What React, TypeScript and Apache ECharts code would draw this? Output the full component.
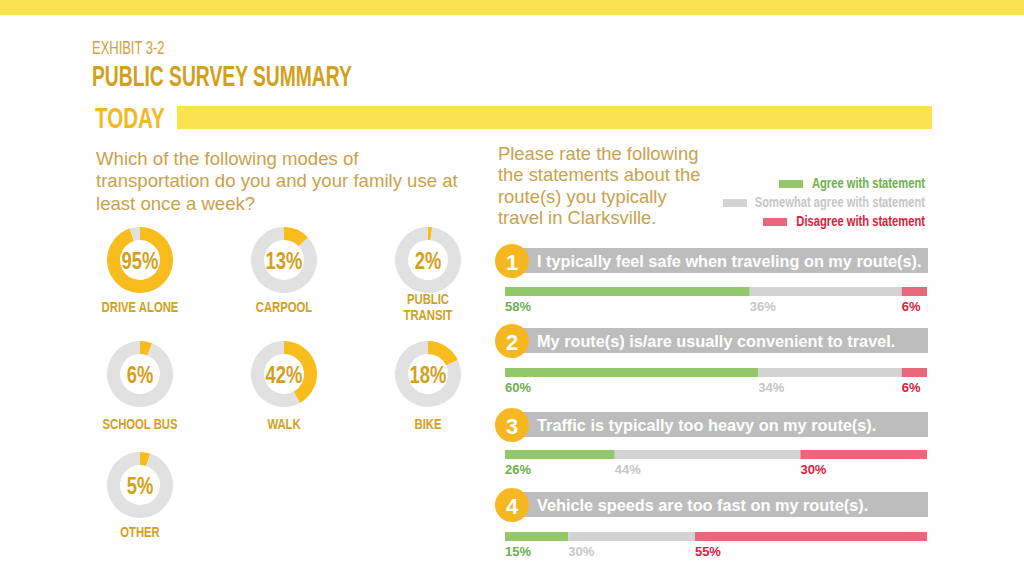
import React, { useEffect, useRef } from 'react';
import * as echarts from 'echarts';

// ---------- data ----------
const modeLabels = ['DRIVE ALONE', 'CARPOOL', 'PUBLIC\nTRANSIT', 'SCHOOL BUS', 'WALK', 'BIKE', 'OTHER'];
const modeShares = [95, 13, 2, 6, 42, 18, 5];

const statements = [
  'I typically feel safe when traveling on my route(s).',
  'My route(s) is/are usually convenient to travel.',
  'Traffic is typically too heavy on my route(s).',
  'Vehicle speeds are too fast on my route(s).',
];
const agreeShares = [58, 60, 26, 15];
const somewhatShares = [36, 34, 44, 30];
const disagreeShares = [6, 6, 30, 55];
const legendLabels = ['Agree with statement', 'Somewhat agree with statement', 'Disagree with statement'];

// ---------- layout / style ----------
const BOLDF = "'Liberation Sans', Arial, Helvetica, sans-serif";
const SANS = "'Liberation Sans', Arial, Helvetica, sans-serif";
const YELLOW_BAND = '#FEE350';
const GOLD_TITLE = '#D3A01C';
const GOLD_LIGHT = '#CFA23A';
const GOLD_TEXT = '#C9A24C';
const GOLD_TODAY = '#F3B91E';
const RING_YELLOW = '#F8BC1C';
const RING_GREY = '#E1E1E1';
const GREEN_BAR = '#93C86A';
const GREY_BAR = '#D3D3D3';
const RED_BAR = '#E8677B';
const GREEN_TXT = '#6DB04C';
const GREY_TXT = '#C6C6C6';
const RED_TXT = '#D7223C';
const BANNER = '#BDBDBD';
const CIRCLE = '#F5B820';

const donutCols = [140, 284, 428];
const donutRows = [260, 374, 485];
const donutLabelRows = [307, 424, 532];

const bannerTops = [248, 328, 412, 492];
const barTops = [287, 368, 450, 532];
const barLeft = 505;
const barWidthPx = 422;

export default function App() {
  const ref = useRef<HTMLDivElement>(null);

  useEffect(() => {
    const chart = echarts.init(ref.current!, null, { renderer: 'svg' });

    const graphic: any[] = [];
    // top band
    graphic.push({ type: 'rect', shape: { x: 0, y: 0, width: 1024, height: 15 }, style: { fill: YELLOW_BAND } });
    // titles (condensed by horizontal scaling)
    graphic.push({ type: 'text', x: 92, y: 48, scaleX: 0.72, style: { text: 'EXHIBIT 3-2', fill: GOLD_LIGHT, fontFamily: BOLDF, fontSize: 18, fontWeight: 'normal', verticalAlign: 'middle' } });
    graphic.push({ type: 'text', x: 92, y: 76, scaleX: 0.665, style: { text: 'PUBLIC SURVEY SUMMARY', fill: GOLD_TITLE, fontFamily: BOLDF, fontSize: 29, fontWeight: 'bold', verticalAlign: 'middle' } });
    graphic.push({ type: 'text', x: 95, y: 118, scaleX: 0.686, style: { text: 'TODAY', fill: GOLD_TODAY, fontFamily: BOLDF, fontSize: 30, fontWeight: 'bold', verticalAlign: 'middle' } });
    graphic.push({ type: 'rect', shape: { x: 177, y: 106, width: 755, height: 23 }, style: { fill: YELLOW_BAND } });

    // left question
    ['Which of the following modes of', 'transportation do you and your family use at', 'least once a week?'].forEach((t, i) => {
      graphic.push({ type: 'text', x: 96, y: 158 + i * 22.5, style: { text: t, fill: GOLD_TEXT, fontFamily: SANS, fontSize: 18.6, verticalAlign: 'middle' } });
    });
    // right question
    ['Please rate the following', 'the statements about the', 'route(s) you typically', 'travel in Clarksville.'].forEach((t, i) => {
      graphic.push({ type: 'text', x: 498, y: 153 + i * 21.5, style: { text: t, fill: GOLD_TEXT, fontFamily: SANS, fontSize: 18.4, verticalAlign: 'middle' } });
    });

    // donut texts
    modeShares.forEach((v, i) => {
      const cx = donutCols[i % 3];
      const cy = donutRows[Math.floor(i / 3)];
      graphic.push({ type: 'text', x: cx, y: cy + 1, scaleX: 0.8, style: { text: v + '%', fill: GOLD_TITLE, fontFamily: BOLDF, fontSize: 23, fontWeight: 'bold', align: 'center', verticalAlign: 'middle' } });
      graphic.push({ type: 'text', x: cx, y: donutLabelRows[Math.floor(i / 3)], scaleX: 0.73, style: { text: modeLabels[i], fill: GOLD_TITLE, fontFamily: BOLDF, fontSize: 15.5, fontWeight: 'bold', align: 'center', verticalAlign: 'middle', lineHeight: 16 } });
    });

    // legend
    const legendColors = [GREEN_BAR, GREY_BAR, RED_BAR];
    const legendTxt = [GREEN_TXT, GREY_TXT, RED_TXT];
    const legendRectX = [779, 723, 763];
    legendLabels.forEach((t, i) => {
      const y = 184 + i * 19;
      graphic.push({ type: 'rect', shape: { x: legendRectX[i], y: y - 4, width: 24, height: 8 }, style: { fill: legendColors[i] } });
      graphic.push({ type: 'text', x: 925, y, scaleX: 0.8, style: { text: t, fill: legendTxt[i], fontFamily: BOLDF, fontSize: 14, fontWeight: 'bold', align: 'right', verticalAlign: 'middle' } });
    });

    // statement banners
    statements.forEach((s, i) => {
      const top = bannerTops[i];
      graphic.push({ type: 'rect', shape: { x: 520, y: top, width: 408, height: 25 }, style: { fill: BANNER } });
      graphic.push({ type: 'circle', shape: { cx: 512, cy: top + 13, r: 17 }, style: { fill: CIRCLE } });
      graphic.push({ type: 'text', x: 512, y: top + 14, style: { text: String(i + 1), fill: '#fff', fontFamily: SANS, fontSize: 22, fontWeight: 'bold', align: 'center', verticalAlign: 'middle' } });
      graphic.push({ type: 'text', x: 537, y: top + 13, style: { text: s, fill: '#fff', fontFamily: SANS, fontSize: 16.3, fontWeight: 'bold', verticalAlign: 'middle' } });
    });

    const grid: any[] = [];
    const xAxis: any[] = [];
    const yAxis: any[] = [];
    const series: any[] = [];

    statements.forEach((_, i) => {
      grid.push({ left: barLeft, top: barTops[i], width: barWidthPx, height: 9 });
      xAxis.push({ type: 'value', gridIndex: i, min: 0, max: 100, show: false });
      yAxis.push({ type: 'category', gridIndex: i, data: [''], show: false });
      const parts = [
        { v: agreeShares[i], c: GREEN_BAR, t: GREEN_TXT },
        { v: somewhatShares[i], c: GREY_BAR, t: GREY_TXT },
        { v: disagreeShares[i], c: RED_BAR, t: RED_TXT },
      ];
      parts.forEach((p) => {
        series.push({
          type: 'bar',
          xAxisIndex: i,
          yAxisIndex: i,
          stack: 's' + i,
          barWidth: 9,
          silent: true,
          data: [p.v],
          itemStyle: { color: p.c },
          label: {
            show: true,
            position: [0, 13],
            align: 'left',
            verticalAlign: 'top',
            formatter: '{c}%',
            color: p.t,
            fontFamily: BOLDF,
            fontSize: 13,
            fontWeight: 'bold',
          },
        });
      });
    });

    modeShares.forEach((v, i) => {
      series.push({
        type: 'pie',
        radius: [20, 33],
        center: [donutCols[i % 3], donutRows[Math.floor(i / 3)]],
        startAngle: 90,
        clockwise: true,
        silent: true,
        label: { show: false },
        labelLine: { show: false },
        emphasis: { disabled: true },
        data: [
          { value: v, itemStyle: { color: RING_YELLOW } },
          { value: 100 - v, itemStyle: { color: RING_GREY } },
        ],
      });
    });

    chart.setOption({
      animation: false,
      backgroundColor: '#ffffff',
      grid,
      xAxis,
      yAxis,
      series,
      graphic,
    });

    return () => chart.dispose();
  }, []);

  return (
    <div
      ref={ref}
      style={{ position: 'fixed', left: 0, top: 0, width: 1024, height: 576, background: '#fff' }}
    />
  );
}
